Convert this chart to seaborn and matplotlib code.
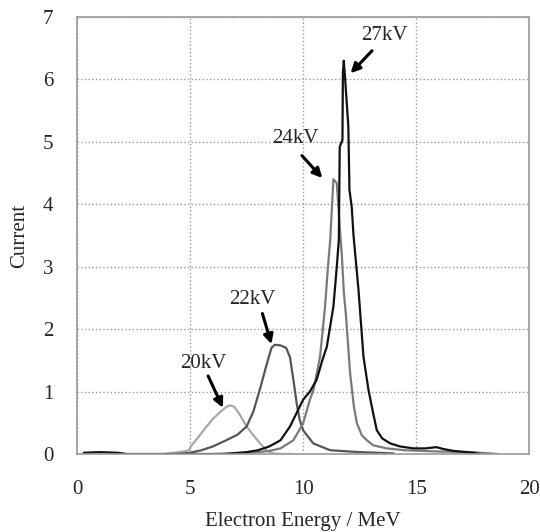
import numpy as np
import pandas as pd
import matplotlib
matplotlib.use('Agg')
import matplotlib.pyplot as plt
import seaborn as sns

# Electron energy spectra
e20 = [3.8, 4.3, 4.7, 4.95, 5.05, 5.3, 5.6, 6.0, 6.3, 6.55, 6.75, 6.95, 7.2, 7.5, 7.8, 8.1, 8.4, 8.7, 9.0, 9.5]
c20 = [0.0, 0.02, 0.04, 0.06, 0.13, 0.24, 0.38, 0.56, 0.66, 0.74, 0.78, 0.76, 0.63, 0.44, 0.30, 0.17, 0.05, 0.01, 0.0, 0.0]

e22 = [4.5, 5.0, 5.5, 6.0, 6.6, 7.1, 7.5, 7.8, 8.1, 8.4, 8.6, 8.75, 9.0, 9.25, 9.42, 9.57, 9.72, 9.85, 10.0, 10.45, 11.2, 12.5, 14.0]
c22 = [0.0, 0.02, 0.06, 0.12, 0.22, 0.31, 0.44, 0.68, 1.05, 1.45, 1.70, 1.75, 1.74, 1.70, 1.55, 1.19, 0.80, 0.55, 0.38, 0.17, 0.06, 0.03, 0.01]

e24 = [6.0, 7.0, 8.0, 8.5, 9.0, 9.57, 10.0, 10.3, 10.46, 10.75, 10.97, 11.1, 11.2, 11.34, 11.49, 11.64, 11.71, 11.8, 11.9,
       12.08, 12.25, 12.38, 12.6, 12.82, 13.1, 13.7, 14.5, 16.0, 17.5, 18.6]
c24 = [0.0, 0.01, 0.03, 0.05, 0.09, 0.22, 0.49, 0.87, 1.03, 1.56, 2.36, 3.0, 3.43, 4.40, 4.34, 3.54, 3.2, 2.6, 2.2,
       1.29, 0.75, 0.49, 0.30, 0.22, 0.14, 0.09, 0.06, 0.04, 0.03, 0.0]

e27 = [0.3, 1.0, 1.8, 2.2, 6.5, 7.5, 8.0, 8.5, 9.0, 9.42, 10.0, 10.3, 10.6, 10.85, 11.05, 11.34, 11.49, 11.58, 11.6, 11.62,
       11.74, 11.76, 11.8, 11.86, 12.0, 12.05, 12.15, 12.23, 12.45, 12.67, 12.89, 13.1, 13.26, 13.5, 13.85, 14.3, 14.88,
       15.4, 15.9, 16.2, 16.65, 17.5, 17.8]
c27 = [0.02, 0.03, 0.02, 0.0, 0.0, 0.03, 0.06, 0.12, 0.22, 0.44, 0.87, 1.0, 1.19, 1.5, 1.72, 2.36, 3.0, 3.43, 4.2, 4.92,
       5.03, 6.1, 6.3, 6.0, 5.25, 4.23, 3.96, 3.5, 2.63, 1.56, 1.03, 0.65, 0.38, 0.25, 0.17, 0.12, 0.09,
       0.09, 0.11, 0.08, 0.05, 0.02, 0.0]

labels = ['20kV', '22kV', '24kV', '27kV']
colors = ['#a8a8a8', '#555555', '#7a7a7a', '#111111']

# label text position and arrow ends (data coords)
label_xy = [(5.6, 1.45), (7.75, 2.48), (9.65, 5.05), (13.6, 6.7)]
arrow_from = [(5.8, 1.25), (8.2, 2.25), (9.95, 4.78), (13.05, 6.46)]
arrow_to = [(6.45, 0.74), (8.6, 1.76), (10.85, 4.42), (12.1, 6.1)]

df = pd.concat([
    pd.DataFrame({'energy': e, 'current': c, 'voltage': lab})
    for e, c, lab in zip([e20, e22, e24, e27], [c20, c22, c24, c27], labels)
])

sns.set_style('white')
plt.rcParams['font.family'] = ['Liberation Serif', 'DejaVu Serif']

fig = plt.figure(figsize=(5.4, 5.32), dpi=100)
ax = fig.add_axes([0.1426, 0.1466, 0.8374, 0.8214])

sns.lineplot(data=df, x='energy', y='current', hue='voltage', palette=dict(zip(labels, colors)),
             estimator=None, sort=True, lw=1.6, legend=False, ax=ax)

for lab, txy, a0, a1 in zip(labels, label_xy, arrow_from, arrow_to):
    ax.text(txy[0], txy[1], lab, ha='center', va='center', fontsize=15)
    ax.annotate('', xy=a1, xytext=a0,
                arrowprops=dict(arrowstyle='-|>', color='black', lw=2.2, mutation_scale=14, shrinkA=0, shrinkB=0))

ax.set_xlim(0, 20)
ax.set_ylim(0, 7)
ax.set_xticks([0, 5, 10, 15, 20])
ax.set_yticks(range(8))
ax.grid(True, ls=':', color='#999999', lw=1.0)
for s in ax.spines.values():
    s.set_color('#999999')
    s.set_linewidth(1.2)
ax.tick_params(direction='in', length=4, color='#999999', labelsize=15)
ax.tick_params(axis='x', pad=19)
ax.tick_params(axis='y', pad=17)
ax.set_xlabel('Electron Energy / MeV', fontsize=15, labelpad=9)
ax.set_ylabel('Current', fontsize=15, labelpad=10)

fig.savefig('out.png', dpi=100)
